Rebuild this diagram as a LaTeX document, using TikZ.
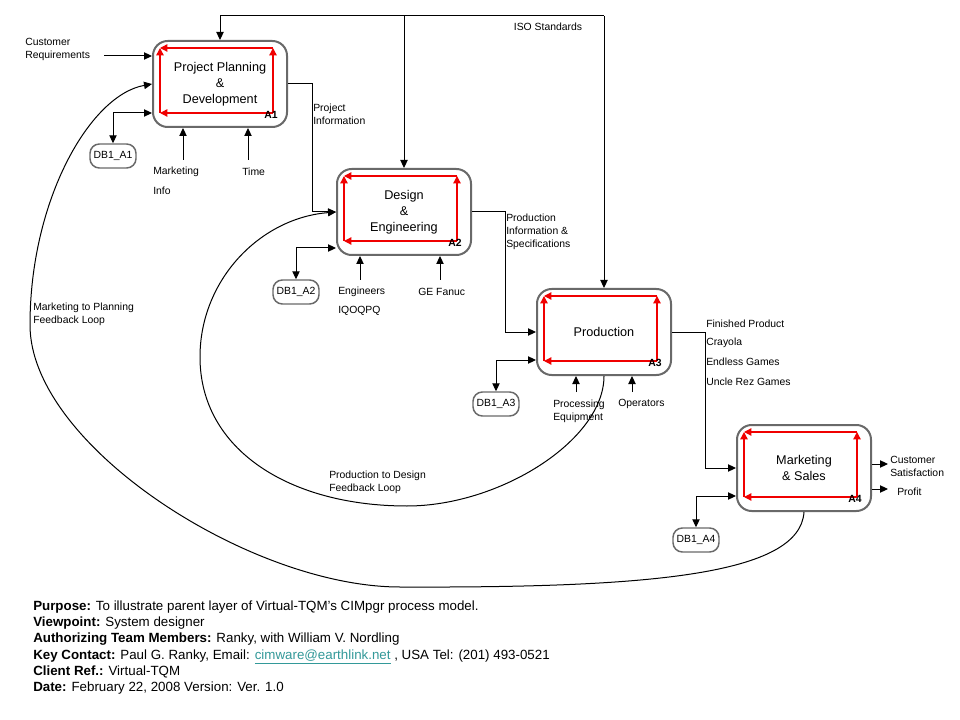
\documentclass[tikz,border=0pt]{standalone}
\usepackage{fontspec}
\setmainfont{Liberation Sans}
\usetikzlibrary{arrows.meta,calc}
\definecolor{boxgray}{RGB}{105,105,105}
\definecolor{linkteal}{RGB}{51,153,153}
\definecolor{loopred}{RGB}{240,0,0}
\begin{document}
\begin{tikzpicture}[x=0.75pt,y=-0.75pt,
  lbl/.style={font=\fontsize{7.8}{9.75}\selectfont, inner sep=0pt, align=left},
  idef/.style={draw=boxgray, line width=1.5pt, rounded corners=11pt, minimum width=100.5pt, minimum height=64.5pt, align=center, font=\fontsize{9.5}{12.1}\selectfont, inner sep=0pt},
  db/.style={draw=boxgray, line width=1.1pt, rounded corners=7pt, minimum width=34.5pt, minimum height=18pt, inner sep=0pt, font=\fontsize{7.8}{9}\selectfont},
  arr/.style={-{Triangle[length=6pt,width=5.5pt]}, line width=0.75pt},
  darr/.style={{Triangle[length=6pt,width=5.5pt]}-{Triangle[length=6pt,width=5.5pt]}, line width=0.75pt},
  redarr/.style={draw=loopred, fill=loopred, line width=1pt, -{Triangle[length=5.5pt,width=5.5pt,fill=loopred]}},
  tag/.style={font=\bfseries\fontsize{7.8}{9}\selectfont, inner sep=0pt},
  curve/.style={line width=0.75pt},
]
\useasboundingbox[fill=white] (0,0) rectangle (960,720);

% ---- activity boxes
\node[idef] (A1) at (220,84) {Project Planning\\\&\\Development};
\node[idef] (A2) at (404,212) {Design\\\&\\Engineering};
\node[idef] (A3) at (604,332) {Production};
\node[idef] (A4) at (804,468) {Marketing\\\& Sales};

\foreach \n in {A1,A2,A3,A4}{
  \draw[redarr] ($(\n.south east)+(-15,-15)$) -- ($(\n.south west)+(8,-15)$);
  \draw[redarr] ($(\n.south west)+(8,-15)$) -- ($(\n.north west)+(8,8)$);
  \draw[redarr] ($(\n.south east)+(-15,-15)$) -- ($(\n.north east)+(-15,8)$);
  \draw[redarr] ($(\n.north east)+(-15,8)$) -- ($(\n.north west)+(8,8)$);
  \node[tag, anchor=south east] (\n-tag) at ($(\n.south east)+(-10,-9)$) {\n};
}

% ---- databases
\node[db] (D1) at (113,156) {DB1\_A1};
\node[db] (D2) at (296,292) {DB1\_A2};
\node[db] (D3) at (496,404) {DB1\_A3};
\node[db] (D4) at (696,540) {DB1\_A4};
\draw[darr] (D1.north) |- ($(A1.south west)+(0,-15)$);
\draw[darr] (D2.north) |- ($(A2.south west)+(0,-8)$);
\draw[darr] (D3.north) |- ($(A3.south west)+(0,-16)$);
\draw[darr] (D4.north) |- ($(A4.south west)+(0,-16)$);

% ---- ISO standards (controls from top)
\coordinate (iso1) at (220,16);
\coordinate (iso2) at (404,16);
\coordinate (iso3) at (604,16);
\draw[line width=0.75pt] (iso1) -- (iso3);
\draw[arr] (iso1) -- (A1.north);
\draw[arr] (iso2) -- (A2.north);
\draw[arr] (iso3) -- (A3.north);
\node[lbl] (lISO) at (548,27) {ISO Standards};

% ---- inputs
\node[lbl, anchor=west] (lCR) at (25,49.5) {Customer\\Requirements};
\coordinate (crS) at (104,56);
\draw[arr] (crS) -- (crS -| A1.west);

% ---- mechanisms / controls from below
\coordinate (c1a) at (183,160); \draw[arr] (c1a) -- (c1a |- A1.south);
\coordinate (c1b) at (248,160); \draw[arr] (c1b) -- (c1b |- A1.south);
\coordinate (c2a) at (360,280); \draw[arr] (c2a) -- (c2a |- A2.south);
\coordinate (c2b) at (440,280); \draw[arr] (c2b) -- (c2b |- A2.south);
\coordinate (c3a) at (576,392); \draw[arr] (c3a) -- (c3a |- A3.south);
\coordinate (c3b) at (632,392); \draw[arr] (c3b) -- (c3b |- A3.south);

\node[lbl, anchor=west] (lMI1) at (153,172) {Marketing};
\node[lbl, anchor=west] (lMI2) at (153,191) {Info};
\node[lbl, anchor=west] (lT) at (242,172) {Time};
\node[lbl, anchor=west] (lEn) at (338,292) {Engineers};
\node[lbl, anchor=west] (lIQ) at (338,311) {IQOQPQ};
\node[lbl, anchor=west] (lGE) at (418,292) {GE Fanuc};
\node[lbl, anchor=west] (lPE) at (553,411) {Processing\\Equipment};
\node[lbl, anchor=west] (lOp) at (618,404) {Operators};

% ---- flow between activities
\coordinate (j1) at (312,84);
\draw[arr] (A1.east) -- (j1) |- (A2.west);
\coordinate (j2) at (505,212);
\draw[arr] (A2.east) -- (j2) |- (A3.west);
\coordinate (j3) at (705,332);
\draw[arr] (A3.east) -- (j3) |- (A4.west);

\node[lbl, anchor=west] (lPI) at (313,114) {Project\\Information};
\node[lbl, anchor=west] (lPIS) at (506,232) {Production\\Information \&\\Specifications};
\node[lbl, anchor=west] (lFP) at (706,324) {Finished Product};
\node[lbl, anchor=west] (lCr) at (706,343) {Crayola};
\node[lbl, anchor=west] (lEG) at (706,362) {Endless Games};
\node[lbl, anchor=west] (lUR) at (706,382) {Uncle Rez Games};

% ---- outputs of A4
\coordinate (csE) at (888,464);
\coordinate (prE) at (888,489);
\draw[arr] (csE -| A4.east) -- (csE);
\draw[arr] (prE -| A4.east) -- (prE);
\node[lbl, anchor=west] (lCS) at (890,466) {Customer\\Satisfaction};
\node[lbl, anchor=west] (lPr) at (897,492) {Profit};

% ---- feedback loops
\draw[curve, arr] (A4.south) .. controls (800,575) and (650,588) .. (400,587)
  .. controls (250,587) and (30,445) .. (30,325)
  .. controls (30,200) and (90,95) .. (A1.west);
\node[lbl, anchor=west] (lMP) at (33,314) {Marketing to Planning\\Feedback Loop};

\draw[curve, arr] (A3.south) .. controls (604,440) and (500,506) .. (407,506)
  .. controls (290,506) and (200,450) .. (200,357)
  .. controls (200,280) and (260,218) .. (A2.west);
\node[lbl, anchor=west] (lPD) at (329,482) {Production to Design\\Feedback Loop};

% ---- description
\node[anchor=north west, align=left, inner sep=0pt, font=\fontsize{10}{12.2}\selectfont] (info) at (33,600.5)
{\textbf{Purpose:} To illustrate parent layer of Virtual-TQM's CIMpgr process model.\\
\textbf{Viewpoint:} System designer\\
\textbf{Authorizing Team Members:} Ranky, with William V. Nordling\\
\textbf{Key Contact:} Paul G. Ranky, Email: \textcolor{linkteal}{\underline{cimware@earthlink.net}} , USA Tel: (201) 493-0521\\
\textbf{Client Ref.:} Virtual-TQM\\
\textbf{Date:} February 22, 2008 Version: Ver. 1.0};
\end{tikzpicture}
\end{document}
